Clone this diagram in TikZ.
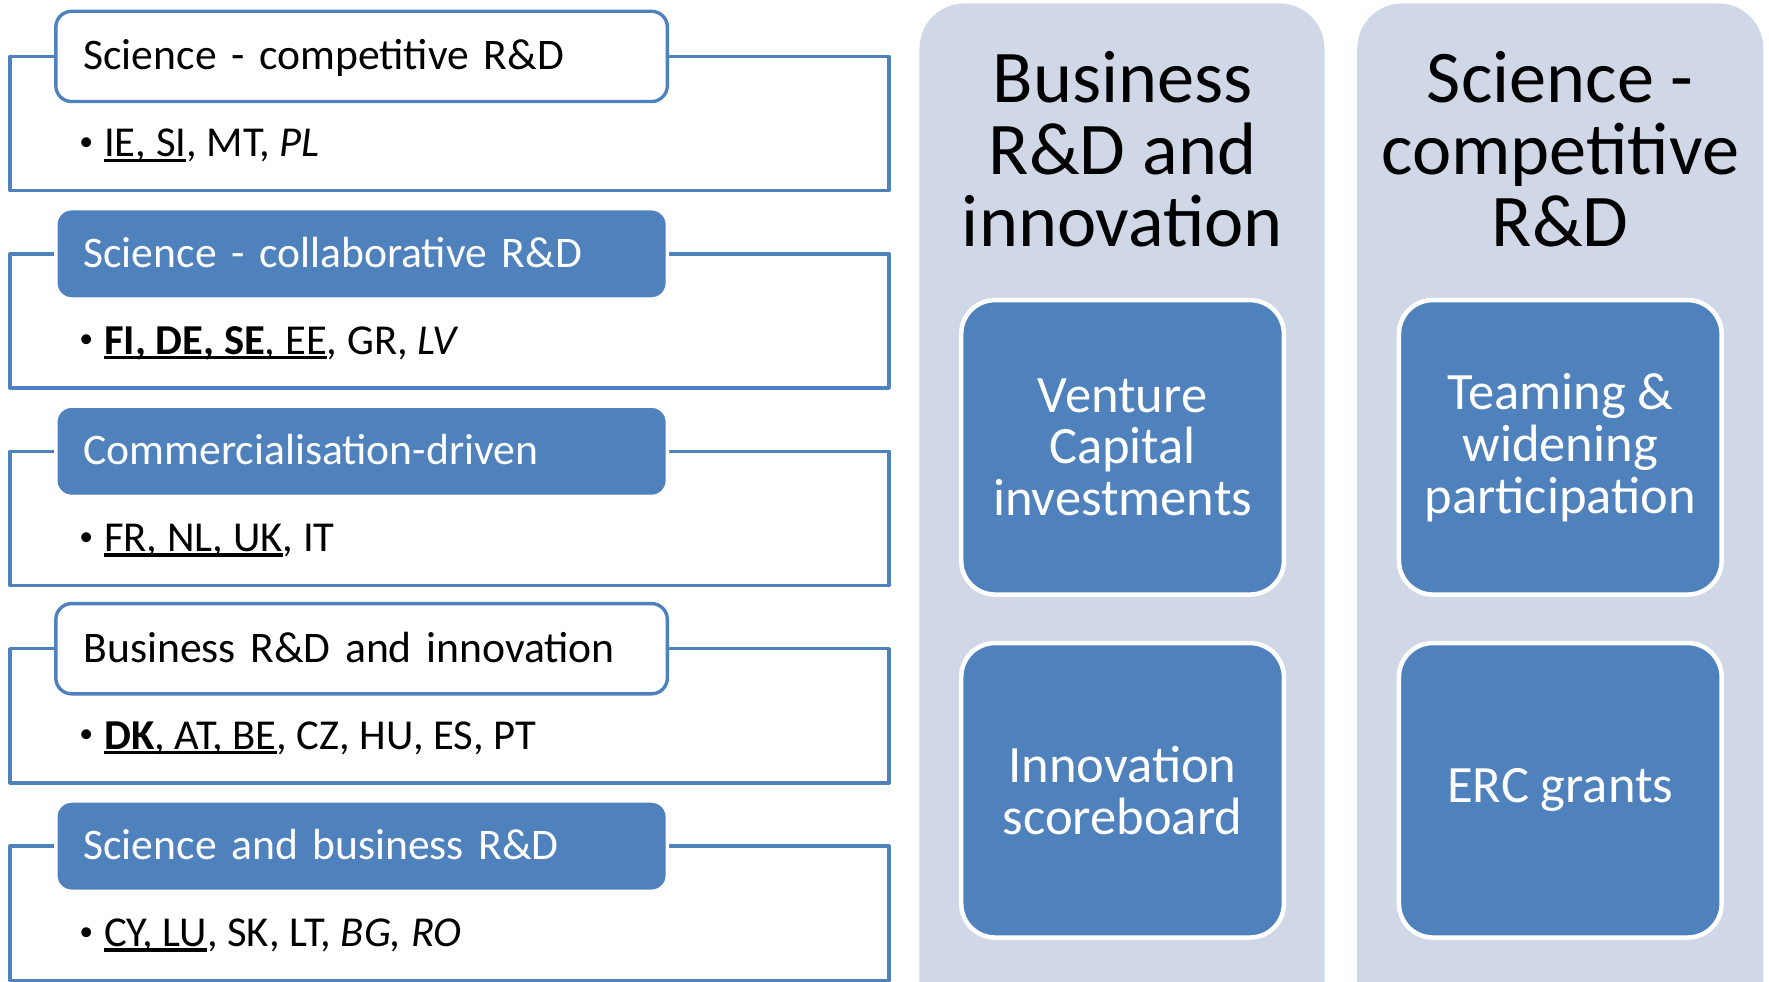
\documentclass[tikz,border=0pt]{standalone}
\usepackage{fontspec}
\setmainfont{Carlito}
\definecolor{ocblue}{HTML}{4F81BD}
\definecolor{ocpale}{HTML}{D0D8E8}
\newcommand{\ulbar}[1]{\setbox0\hbox{#1}\rlap{\copy0}\rule[-0.12em]{\wd0}{0.08em}}
\newcommand{\dotitem}{\makebox[5mm][l]{\hspace{0.6mm}\fontsize{14}{14}\selectfont\raisebox{3.2pt}{\textbullet}}}
\tikzset{
  rowframe/.style={draw=ocblue, line width=0.6mm},
  rowhead/.style={line width=0.6mm, rounded corners=2.8mm, text width=98.6mm, align=left,
    inner xsep=4.9mm, inner ysep=0pt, minimum height=16mm, text height=4.8mm, text depth=0pt,
    font=\fontsize{22}{26}\selectfont},
  headw/.style={rowhead, draw=ocblue, fill=white, text=black},
  headb/.style={rowhead, draw=white, fill=ocblue, text=white},
  colhead/.style={align=center, inner sep=0pt, font=\fontsize{37.5}{36.4}\selectfont},
  tile/.style={draw=white, line width=0.8mm, fill=ocblue, text=white, rounded corners=6mm,
    minimum width=57.2mm, minimum height=52.2mm, align=center, inner sep=0pt,
    font=\fontsize{26.5}{26.2}\selectfont}
}
\begin{document}
\begin{tikzpicture}[x=0.2mm, y=-0.2mm, line join=round]
 \useasboundingbox (0,0) rectangle (1568,870);
 \clip (0,0) rectangle (1568,870);
 % left: groups of countries
 \foreach \i/\y/\kind/\head/\list in {
   1/50/headw/{Science - competitive R\&D}/{\ulbar{IE, SI}, MT, \textit{PL}},
   2/225/headb/{Science - collaborative R\&D}/{\ulbar{\textbf{FI, DE, SE}, EE}, GR, \textit{LV}},
   3/400/headb/{Commercialisation-driven}/{\ulbar{FR, NL, UK}, IT},
   4/575/headw/{Business R\&D and innovation}/{\ulbar{\textbf{DK}, AT, BE}, CZ, HU, ES, PT},
   5/750/headb/{Science and business R\&D}/{\ulbar{CY, LU}, SK, LT, \textit{BG, RO}}}
 {
 \draw[rowframe] (9,\y) rectangle (788,\y+119);
 \node[\kind] (h\i) at (320.5,\y) {\head};
 \node[anchor=base west, inner sep=0pt, font=\fontsize{21.5}{25}\selectfont] (l\i) at (67,\y+89) {\dotitem\list};
 }
 % right: two columns
 \fill[ocpale, rounded corners=8mm] (815,3) rectangle (1174,930);
 \fill[ocpale, rounded corners=8mm] (1203,3) rectangle (1563,930);
 \node[colhead] (c1) at (995,132) {Business\\R\&D and\\innovation};
 \node[colhead] (c2) at (1383,132) {Science -\\competitive\\R\&D};
 \node[tile] (t1) at (995,396.5) {Venture\\Capital\\investments};
 \node[tile] (t2) at (995,700.5) {Innovation\\scoreboard};
 \node[tile] (t3) at (1383,396.5) {Teaming \&\\widening\\participation};
 \node[tile] (t4) at (1383,700.5) {ERC grants};
\end{tikzpicture}
\end{document}
